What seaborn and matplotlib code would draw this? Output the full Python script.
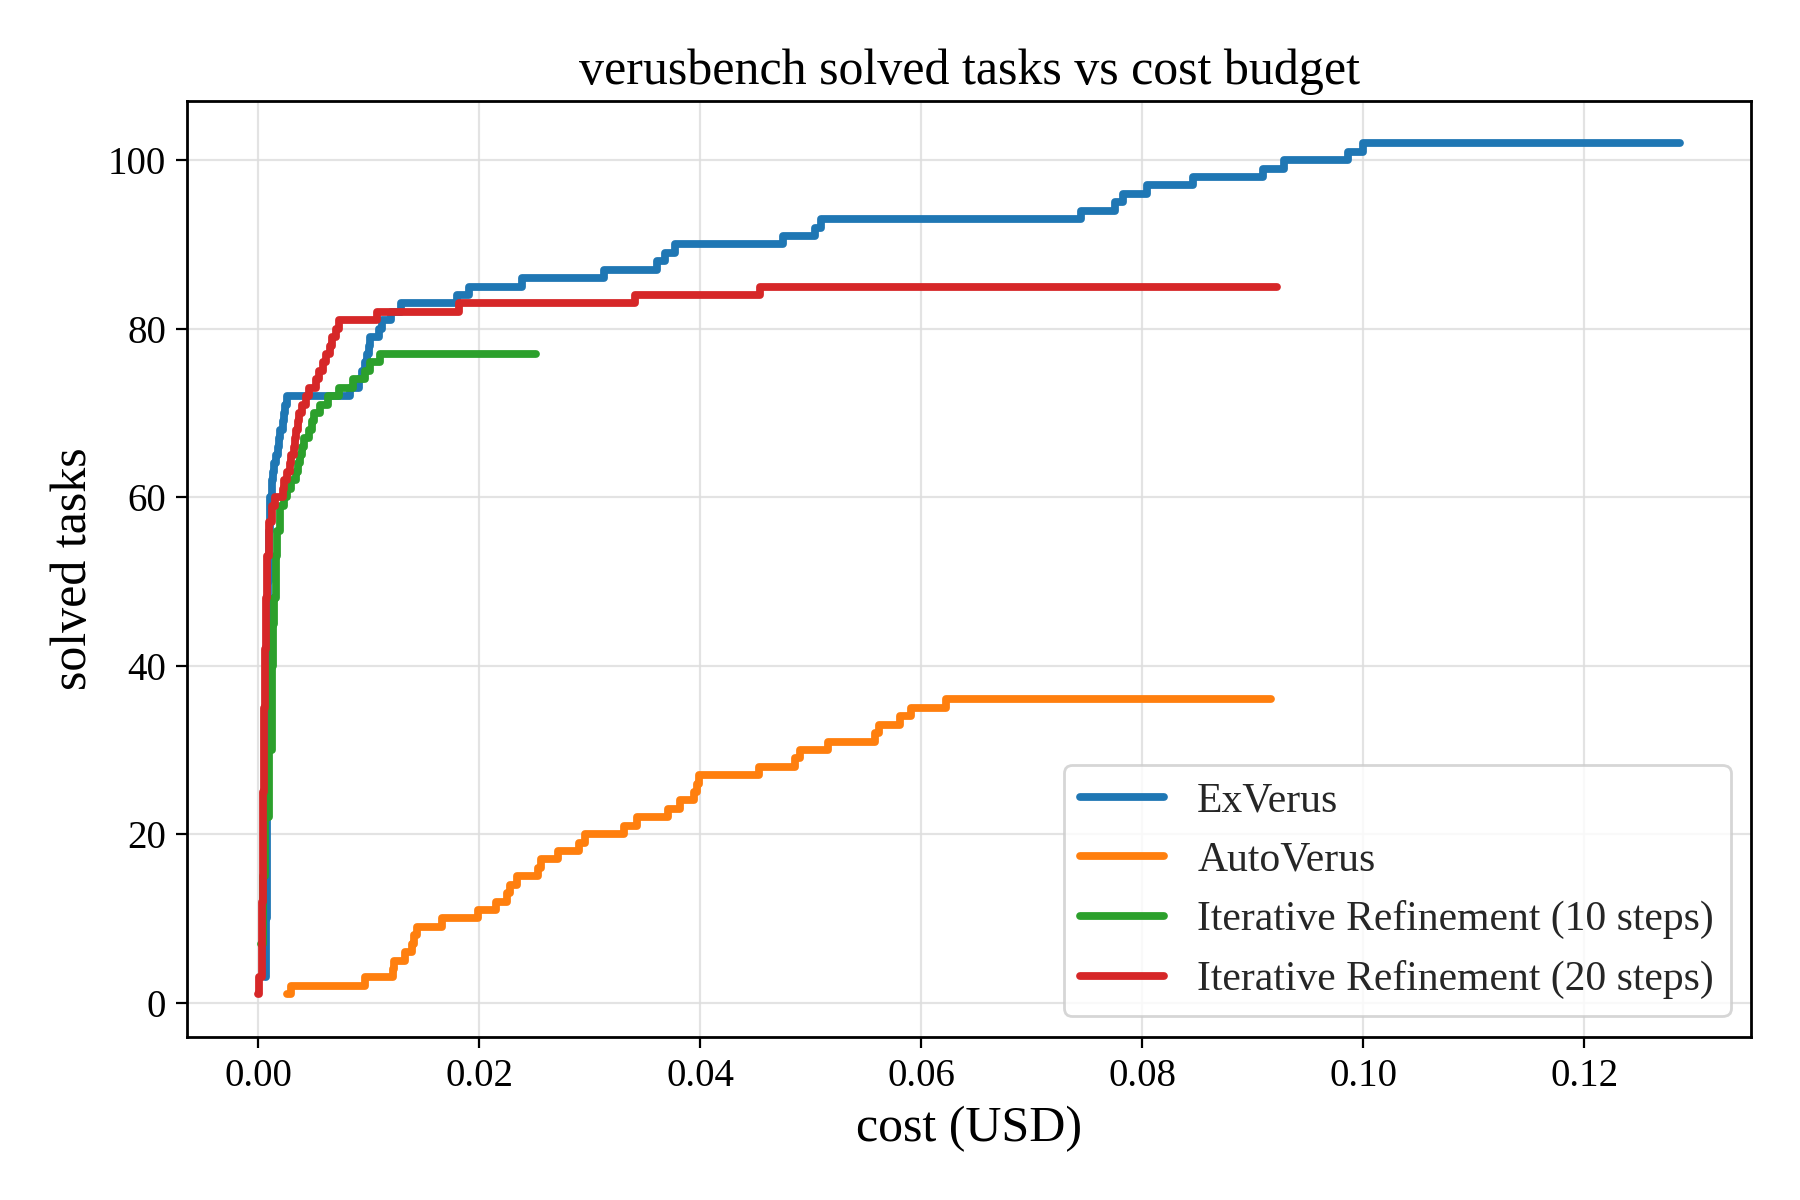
import matplotlib
matplotlib.use("Agg")
import matplotlib.pyplot as plt
import seaborn as sns
import pandas as pd

# ---- data (cost at each step, cumulative solved tasks) ----
exverus_cost = [0.0006, 0.0007, 0.0008, 0.0008, 0.0009, 0.0010, 0.0011, 0.0012, 0.0013,
                0.0014, 0.0016, 0.0018, 0.0019, 0.0020, 0.0022, 0.0023, 0.0024, 0.0026,
                0.0083, 0.0091, 0.0094, 0.0097, 0.0098, 0.0100, 0.0101, 0.0109, 0.0112,
                0.0120, 0.0129, 0.0180, 0.0191, 0.0239, 0.0313, 0.0361, 0.0368, 0.0377,
                0.0475, 0.0504, 0.0509, 0.0745, 0.0775, 0.0783, 0.0804, 0.0846, 0.0909,
                0.0928, 0.0986, 0.1000, 0.1287]
exverus_solved = [3, 10, 25, 42, 50, 56, 60, 62, 63,
                  64, 65, 66, 67, 68, 69, 70, 71, 72,
                  73, 74, 75, 76, 77, 78, 79, 80, 81,
                  82, 83, 84, 85, 86, 87, 88, 89, 90,
                  91, 92, 93, 94, 95, 96, 97, 98, 99,
                  100, 101, 102, 102]

autoverus_cost = [0.0026, 0.0030, 0.0097, 0.0122, 0.0123, 0.0133, 0.0139, 0.0141, 0.0144,
                  0.0166, 0.0199, 0.0215, 0.0225, 0.0228, 0.0234, 0.0253, 0.0256, 0.0271,
                  0.0290, 0.0296, 0.0331, 0.0343, 0.0371, 0.0382, 0.0394, 0.0397, 0.0399,
                  0.0453, 0.0486, 0.0490, 0.0516, 0.0558, 0.0562, 0.0581, 0.0591, 0.0622,
                  0.0917]
autoverus_solved = [1, 2, 3, 4, 5, 6, 7, 8, 9,
                    10, 11, 12, 13, 14, 15, 16, 17, 18,
                    19, 20, 21, 22, 23, 24, 25, 26, 27,
                    28, 29, 30, 31, 32, 33, 34, 35, 36,
                    36]

iter10_cost = [0.0002, 0.0004, 0.0006, 0.0010, 0.0012, 0.0013, 0.0014, 0.0016, 0.0017,
               0.0020, 0.0023, 0.0026, 0.0030, 0.0034, 0.0036, 0.0038, 0.0040, 0.0041,
               0.0046, 0.0049, 0.0050, 0.0056, 0.0063, 0.0073, 0.0086, 0.0097, 0.0101,
               0.0110, 0.0251]
iter10_solved = [7, 15, 22, 30, 40, 45, 48, 53, 56,
                 59, 60, 61, 62, 63, 64, 65, 66, 67,
                 68, 69, 70, 71, 72, 73, 74, 75, 76,
                 77, 77]

iter20_cost = [0.0000, 0.00005, 0.0003, 0.0004, 0.0005, 0.0006, 0.0007, 0.0008, 0.0010,
               0.0012, 0.0015, 0.0022, 0.0023, 0.0026, 0.0029, 0.0030, 0.0032, 0.0033,
               0.0034, 0.0036, 0.0037, 0.0040, 0.0043, 0.0046, 0.0052, 0.0055, 0.0059,
               0.0061, 0.0065, 0.0067, 0.0070, 0.0073, 0.0107, 0.0182, 0.0341, 0.0454,
               0.0922]
iter20_solved = [1, 3, 12, 25, 35, 42, 48, 53, 57,
                 59, 60, 61, 62, 63, 64, 65, 66, 67,
                 68, 69, 70, 71, 72, 73, 74, 75, 76,
                 77, 78, 79, 80, 81, 82, 83, 84, 85,
                 85]

methods = ["ExVerus", "AutoVerus", "Iterative Refinement (10 steps)",
           "Iterative Refinement (20 steps)"]

frames = []
for name, c, s in zip(methods,
                      [exverus_cost, autoverus_cost, iter10_cost, iter20_cost],
                      [exverus_solved, autoverus_solved, iter10_solved, iter20_solved]):
    frames.append(pd.DataFrame({"cost": c, "solved": s, "method": name}))
df = pd.concat(frames, ignore_index=True)

sns.set_theme(style="ticks")
plt.rcParams["font.family"] = ["Liberation Serif", "DejaVu Serif"]
plt.rcParams["mathtext.fontset"] = "stix"

fig, ax = plt.subplots(figsize=(9, 6), dpi=200)
fig.subplots_adjust(left=0.104, right=0.973, top=0.916, bottom=0.136)

palette = ["#1f77b4", "#ff7f0e", "#2ca02c", "#d62728"]
sns.lineplot(data=df, x="cost", y="solved", hue="method", hue_order=methods,
             palette=palette, estimator=None, drawstyle="steps-post",
             linewidth=2.8, ax=ax)

for sp in ax.spines.values():
    sp.set_visible(True)
    sp.set_color("black")
    sp.set_linewidth(1.0)

ax.grid(True, color="#dddddd", linewidth=0.8, alpha=0.8)
ax.set_axisbelow(True)
ax.tick_params(axis="both", labelsize=14, direction="out", length=4, width=0.8,
               color="black", labelcolor="black")
ax.set_xticks([0.00, 0.02, 0.04, 0.06, 0.08, 0.10, 0.12])
ax.set_xticklabels(["0.00", "0.02", "0.04", "0.06", "0.08", "0.10", "0.12"])
ax.set_yticks([0, 20, 40, 60, 80, 100])

ax.set_xlabel("cost (USD)", fontsize=18, color="black")
ax.set_ylabel("solved tasks", fontsize=18, color="black")
ax.set_title("verusbench solved tasks vs cost budget", fontsize=18, color="black")

leg = ax.legend(loc="lower right", fontsize=15, frameon=True, fancybox=True,
                framealpha=0.8, edgecolor="#cccccc", title=None)
leg.get_frame().set_linewidth(1.0)
for line in leg.get_lines():
    line.set_linewidth(2.8)

fig.savefig("out.png", dpi=200)
